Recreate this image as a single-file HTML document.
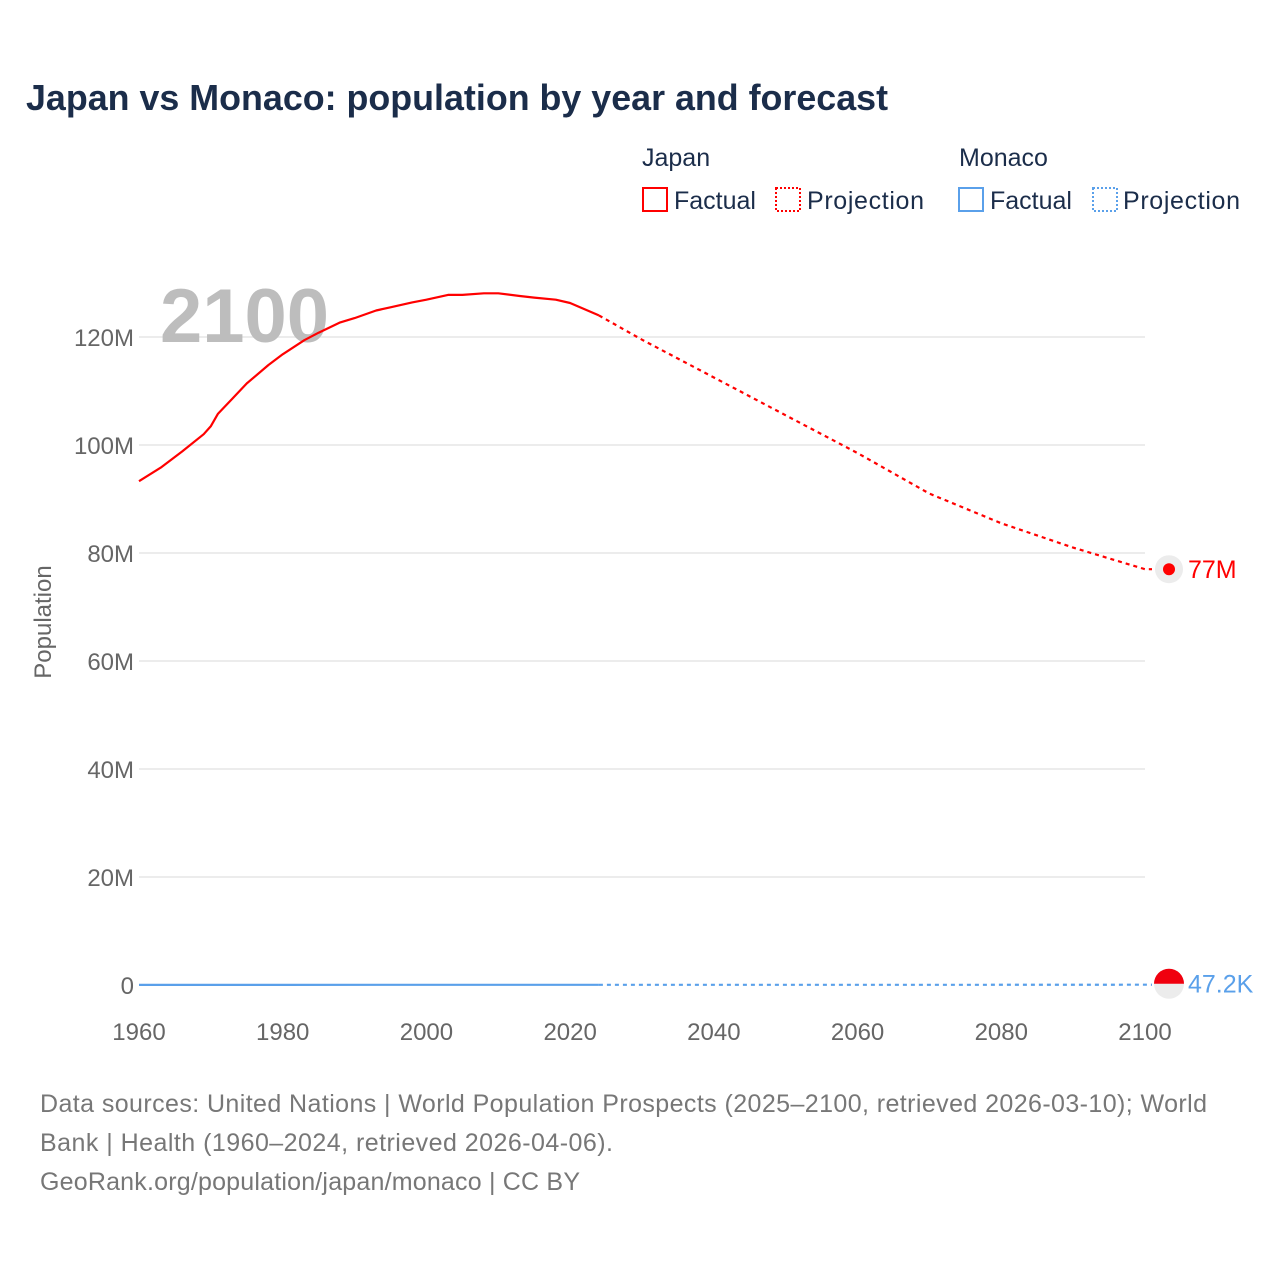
<!DOCTYPE html>
<html><head><meta charset="utf-8"><style>
body{margin:0;background:#fff;font-family:"Liberation Sans",sans-serif}
svg text{font-family:"Liberation Sans",sans-serif}
</style></head><body>
<svg width="1280" height="1280" viewBox="0 0 1280 1280">
<text x="26" y="110" font-size="36" font-weight="bold" fill="#1b2d4a" textLength="862" lengthAdjust="spacingAndGlyphs">Japan vs Monaco: population by year and forecast</text>
<g>
<text x="642" y="166" font-size="25" fill="#1b2d4a">Japan</text>
<rect x="643" y="188" width="24" height="23" fill="none" stroke="#f00" stroke-width="2"/>
<text x="674" y="209" font-size="25" fill="#1b2d4a">Factual</text>
<rect x="776" y="188" width="24" height="23" fill="none" stroke="#f00" stroke-width="2" stroke-dasharray="2 2"/>
<text x="807" y="209" font-size="25" fill="#1b2d4a" textLength="117">Projection</text>
<text x="959" y="166" font-size="25" fill="#1b2d4a">Monaco</text>
<rect x="959" y="188" width="24" height="23" fill="none" stroke="#5aa0ea" stroke-width="2"/>
<text x="990" y="209" font-size="25" fill="#1b2d4a">Factual</text>
<rect x="1093" y="188" width="24" height="23" fill="none" stroke="#5aa0ea" stroke-width="2" stroke-dasharray="2 2"/>
<text x="1123" y="209" font-size="25" fill="#1b2d4a" textLength="117">Projection</text>
</g>
<g id="grid"></g>
<text x="160" y="342" font-size="76" font-weight="bold" fill="#bdbdbd">2100</text>
<text transform="translate(51,622) rotate(-90)" text-anchor="middle" font-size="24" fill="#666">Population</text>
<g id="plot"></g>
<g font-size="25" fill="#777">
<text x="40" y="1112" textLength="1167">Data sources: United Nations | World Population Prospects (2025–2100, retrieved 2026-03-10); World</text>
<text x="40" y="1151" textLength="573">Bank | Health (1960–2024, retrieved 2026-04-06).</text>
<text x="40" y="1190" textLength="540">GeoRank.org/population/japan/monaco | CC BY</text>
</g>
</svg>
<script>
const yTicks=[0,20,40,60,80,100,120];
const yTickLabels=["0","20M","40M","60M","80M","100M","120M"];
const xTicks=[1960,1980,2000,2020,2040,2060,2080,2100];
const japanYears=[1960,1963,1966,1969,1970,1971,1973,1975,1978,1980,1983,1985,1988,1990,1993,1995,1998,2000,2003,2005,2008,2010,2013,2015,2018,2020,2024];
const japanValues=[93.3,95.8,98.8,102,103.5,105.8,108.6,111.4,114.8,116.8,119.4,120.8,122.7,123.5,124.9,125.5,126.4,126.9,127.8,127.8,128.1,128.1,127.6,127.3,126.9,126.3,124];
const japanProjYears=[2024,2030,2040,2050,2060,2070,2080,2090,2100];
const japanProjValues=[124,119.5,112.5,105.5,98.5,91,85.5,81,77];
const monacoYears=[1960,1980,2000,2024];
const monacoValues=[0.022,0.027,0.032,0.039];
const monacoProjYears=[2024,2050,2075,2100];
const monacoProjValues=[0.039,0.043,0.046,0.0472];
const X=y=>139+(y-1960)*(1006/140);
const Y=v=>985-v*5.4;
const NS="http://www.w3.org/2000/svg";
function mk(tag,attrs,parent){const e=document.createElementNS(NS,tag);for(const k in attrs)e.setAttribute(k,attrs[k]);parent.appendChild(e);return e;}
const grid=document.getElementById('grid'),plot=document.getElementById('plot');
yTicks.forEach((t,i)=>{
 if(t>0){const l=mk('line',{x1:139,x2:1145,y1:Y(t),y2:Y(t),stroke:'#e6e6e6','stroke-width':1.5},grid);
 
 }
 const tx=mk('text',{x:134,y:Y(t)+9,'text-anchor':'end','font-size':24,fill:'#666'},grid);tx.textContent=yTickLabels[i];
 
 
});
xTicks.forEach(t=>{const tx=mk('text',{x:X(t),y:1040,'text-anchor':'middle','font-size':24,fill:'#666'},grid);tx.textContent=t;
 
 });
function path(xs,vs){return xs.map((x,i)=>(i?'L':'M')+X(x).toFixed(1)+','+Y(vs[i]).toFixed(1)).join('');}
let p;
p=mk('path',{d:path(japanYears,japanValues),fill:'none',stroke:'#f00','stroke-width':2.2,'stroke-linejoin':'round'},plot);


p=mk('path',{d:path(japanProjYears,japanProjValues)+'L1152,'+Y(japanProjValues[japanProjValues.length-1]),fill:'none',stroke:'#f00','stroke-width':2.2,'stroke-dasharray':'4 4'},plot);


p=mk('path',{d:path(monacoYears,monacoValues),fill:'none',stroke:'#5aa0ea','stroke-width':2.2},plot);


p=mk('path',{d:path(monacoProjYears,monacoProjValues)+'L1152,'+Y(monacoProjValues[monacoProjValues.length-1]),fill:'none',stroke:'#5aa0ea','stroke-width':2.2,'stroke-dasharray':'4 4'},plot);


const jy=Y(japanProjValues[japanProjValues.length-1]);
let c=mk('circle',{cx:1169,cy:jy,r:14,fill:'#ececec'},plot);


c=mk('circle',{cx:1169,cy:jy,r:6,fill:'#f00'},plot);


let t=mk('text',{x:1188,y:jy+9,'font-size':25,fill:'#f00'},plot);t.textContent='77M';


const my=Y(monacoProjValues[monacoProjValues.length-1])-1;
c=mk('circle',{cx:1169,cy:my,r:15,fill:'#ececec'},plot);


c=mk('path',{d:`M1154,${my} A15,15 0 0 1 1184,${my} Z`,fill:'#f0000e'},plot);


t=mk('text',{x:1188,y:my+9,'font-size':25,fill:'#5aa0ea'},plot);t.textContent='47.2K';


</script>
</body></html>
